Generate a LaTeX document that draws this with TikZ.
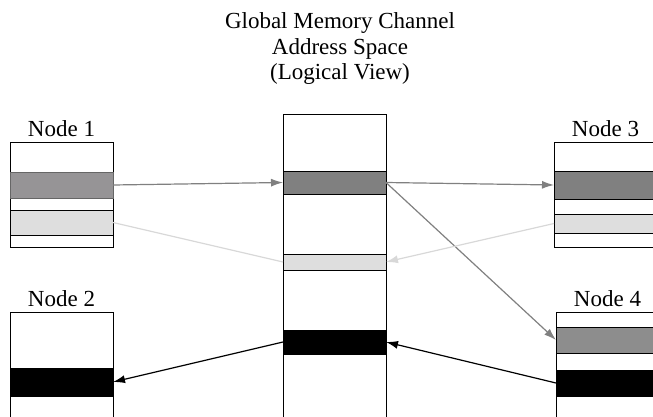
\documentclass[tikz,border=0pt]{standalone}
\usepackage{fontspec}
\setmainfont{Liberation Serif}
\usetikzlibrary{positioning,arrows.meta}

\definecolor{darkband}{HTML}{808080}
\definecolor{midband}{HTML}{969496}
\definecolor{lightband}{HTML}{DEDEDE}
\definecolor{lightline}{HTML}{D8D8D8}

\begin{document}
\begin{tikzpicture}
[
    x=1pt, y=-1pt,
    every node/.style={inner sep=0pt, outer sep=0pt},
    mem/.style={draw, line width=0.8pt, minimum width=103pt, anchor=north west},
    band/.style={mem, fill=#1},
    lbl/.style={font=\fontsize{23}{25.5}\selectfont},
    link/.style={line width=1.2pt, -{Latex[length=12pt, width=8pt]}},
]
\clip (0,0) rectangle (653,417);

\node [lbl, align=center, anchor=north] (title) at (340,13)
{Global Memory Channel\\Address Space\\(Logical View)};

\node [mem, minimum height=105pt] (n1) at (10,142) {};
\node [band=midband, draw=black!60, minimum height=26pt] (n1dark) at (10,172) {};
\node [band=lightband, minimum height=25pt] (n1light) at (10,210) {};
\node [lbl, above=5pt of n1] (n1lbl) {Node 1};

\node [mem, minimum height=120pt] (n2) at (10,312) {};
\node [band=black, minimum height=28pt] (n2black) at (10,368) {};
\node [lbl, above=5pt of n2] (n2lbl) {Node 2};

\node [mem, minimum height=320pt] (glob) at (283,114) {};
\node [band=darkband, minimum height=23pt] (gdark) at (283,171) {};
\node [band=lightband, minimum height=16pt] (glight) at (283,254) {};
\node [band=black, minimum height=24pt] (gblack) at (283,330) {};

\node [mem, minimum height=105pt] (n3) at (554,142) {};
\node [band=darkband, minimum height=28pt] (n3dark) at (554,171) {};
\node [band=lightband, minimum height=19pt] (n3light) at (554,214) {};
\node [lbl, above=5pt of n3] (n3lbl) {Node 3};

\node [mem, minimum height=120pt] (n4) at (556,312) {};
\node [band=darkband!90!white, minimum height=26pt] (n4dark) at (556,327) {};
\node [band=black, minimum height=26pt] (n4black) at (556,370) {};
\node [lbl, above=5pt of n4] (n4lbl) {Node 4};

\draw [link, draw=darkband] (n1dark.east) -- (gdark.west);
\draw [link, draw=darkband] (gdark.east) -- (n3dark.west);
\draw [link, draw=darkband] (gdark.east) -- (n4dark.west);
\draw [link, draw=lightline] (n3light.west) -- (glight.east);
\draw [line width=1.2pt, draw=lightline] (n1light.east) -- (glight.west);
\draw [link] (gblack.west) -- (n2black.east);
\draw [link] (n4black.west) -- (gblack.east);
\end{tikzpicture}
\end{document}
